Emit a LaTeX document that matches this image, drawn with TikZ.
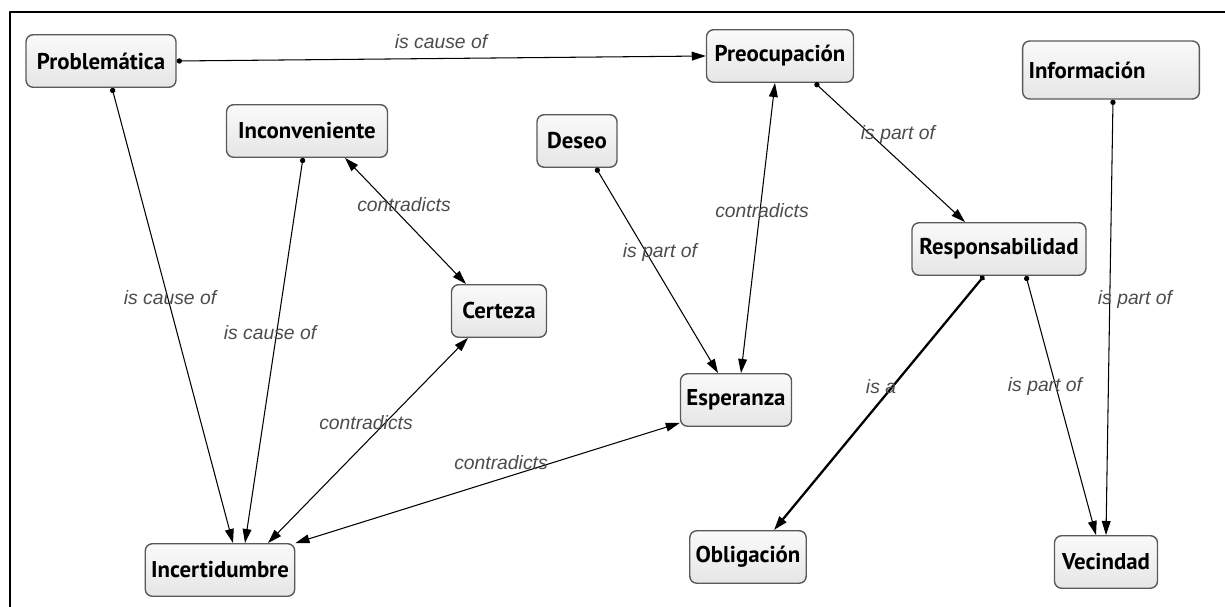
\documentclass[tikz,border=0pt]{standalone}
\usepackage{fontspec}
\setmainfont{Liberation Sans}
\newfontfamily\conceptfont{PT Sans}
\usetikzlibrary{arrows.meta}
\tikzset{
  concept/.style={draw=black!65, line width=0.8pt, rounded corners=4pt,
    top color=gray!4, bottom color=gray!20, minimum height=1.05cm,
    font=\conceptfont\bfseries\fontsize{13}{15}\selectfont},
  rel/.style={text=black!70, inner sep=1pt, font=\itshape\fontsize{11}{13}\selectfont},
  link/.style={{Circle[length=3pt]}->, line width=0.6pt},
  both/.style={<->, line width=0.6pt}
}

\begin{document}
\begin{tikzpicture}[line cap=round,line join=round,>={Triangle[length=8pt,width=5pt]},x=0.02cm,y=-0.02cm]
\useasboundingbox (0,0) rectangle (1225,607);
\draw [line width=1pt] (10,607) -- (10,12) -- (1225,12);
% concepts
\node[concept, minimum width=3.0cm] (prob) at (101,61) {Problemática};
\node[concept, minimum width=3.22cm] (incon) at (307,131) {Inconveniente};
\node[concept, minimum width=2.94cm] (preo) at (780,56) {Preocupación};
\node[concept, minimum height=1.16cm, text width=3.3cm, align=left] (info) at (1111,70) {Información};
\node[concept, minimum width=1.6cm] (deseo) at (577,141) {Deseo};
\node[concept, minimum width=1.9cm] (cert) at (499,311) {Certeza};
\node[concept, minimum width=3.48cm] (resp) at (999,249) {Responsabilidad};
\node[concept, minimum width=2.22cm] (esp) at (736,400) {Esperanza};
\node[concept, minimum width=2.3cm] (oblig) at (748,557) {Obligación};
\node[concept, minimum width=2.06cm] (vec) at (1106,562) {Vecindad};
\node[concept, minimum width=2.82cm] (incert) at (220,570) {Incertidumbre};
% links
\draw [link] (prob.east) -- (preo.west);
\draw [link] ([xshift=0.22cm]prob.south) -- ([xshift=0.26cm]incert.north);
\draw [link] ([xshift=-0.08cm]incon.south) -- ([xshift=0.5cm]incert.north);
\draw [both] ([xshift=0.76cm]incon.south) -- ([xshift=-0.66cm]cert.north);
\draw [both] ([xshift=-0.62cm]cert.south) -- ([xshift=0.96cm]incert.north);
\draw [both] ([yshift=0.08cm]esp.south west) -- (incert.north east);
\draw [link] ([xshift=0.38cm]deseo.south) -- ([xshift=-0.36cm]esp.north);
\draw [both] ([xshift=-0.1cm]preo.south) -- ([xshift=0.1cm]esp.north);
\draw [link] ([xshift=0.7cm]preo.south) -- ([xshift=-0.68cm]resp.north);
\draw [link, line width=1.3pt] ([xshift=-0.3cm]resp.south) -- ([xshift=0.52cm]oblig.north);
\draw [link] ([xshift=0.54cm]resp.south) -- ([xshift=-0.2cm]vec.north);
\draw [link] ([xshift=0.04cm]info.south) -- ([xshift=0cm]vec.north);
% link labels
\node[rel] (l1) at (441,42) {is cause of};
\node[rel] (l2) at (170,298) {is cause of};
\node[rel] (l3) at (270,333) {is cause of};
\node[rel] (l4) at (404,205) {contradicts};
\node[rel] (l5) at (366,423) {contradicts};
\node[rel] (l6) at (501,463) {contradicts};
\node[rel] (l7) at (660,253) {is part of};
\node[rel] (l8) at (762,211) {contradicts};
\node[rel] (l9) at (898,135) {is part of};
\node[rel] (l10) at (881,387) {is a};
\node[rel] (l11) at (1045,387) {is part of};
\node[rel] (l12) at (1135,300) {is part of};
\end{tikzpicture}
\end{document}
